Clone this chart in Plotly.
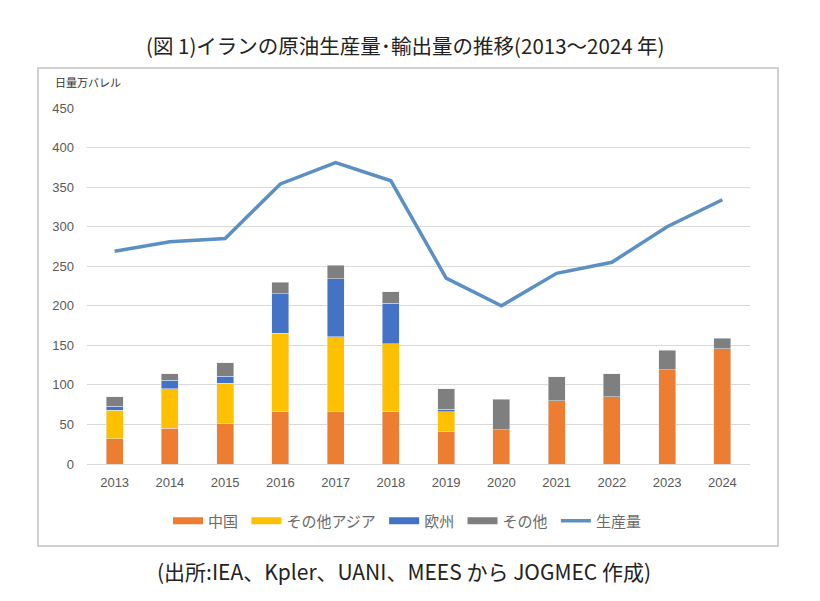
import plotly.graph_objects as go

years = ["2013", "2014", "2015", "2016", "2017", "2018",
         "2019", "2020", "2021", "2022", "2023", "2024"]

# 輸出量 (日量万バレル)
china = [32, 45, 51, 66, 66, 67, 41, 43, 80, 85, 119, 146]
other_asia = [36, 50, 51, 99, 95, 85, 25, 0, 0, 0, 0, 0]
europe = [5, 11, 9, 50, 73, 51, 3, 0, 0, 0, 0, 0]
others = [12, 8, 17, 15, 17, 15, 26, 39, 30, 29, 25, 13]

# 生産量
production = [269, 281, 285, 354, 381, 358, 235, 200, 241, 255, 300, 334]

series = [("中国", china, "#ED7D31"),
          ("その他アジア", other_asia, "#FFC000"),
          ("欧州", europe, "#4472C4"),
          ("その他", others, "#7F7F7F")]

FONT = "Noto Sans CJK JP"
W, H = 820, 601
OFF = 8  # page body margin
L, R, T, B = 87 - OFF, 78, 108 - OFF, 145

fig = go.Figure()
for name, vals, col in series:
    fig.add_trace(go.Bar(x=years, y=vals, name=name, marker_color=col,
                         showlegend=False, legendgroup=name))
# wide legend swatches like Excel
for name, vals, col in series:
    fig.add_trace(go.Scatter(x=[None], y=[None], name=name + " ", mode="lines",
                             line=dict(color=col, width=7), legendgroup=name))
fig.add_trace(go.Scatter(x=years, y=production, name="生産量", mode="lines",
                         line=dict(color="#5B90C2", width=3.5)))

pw, ph = W - L - R, H - T - B


def px_x(v):
    return (v - OFF - L) / pw


def px_y(v):
    return (H - B - (v - OFF)) / ph


fig.update_layout(
    width=W, height=H,
    margin=dict(l=L, r=R, t=T, b=B),
    paper_bgcolor="white", plot_bgcolor="white",
    barmode="stack", bargap=0.69,
    font=dict(family=FONT, color="#595959", size=12),
    legend=dict(orientation="h", x=px_x(407), xanchor="center",
                y=px_y(521), yanchor="middle",
                font=dict(size=15, color="#6b6b6b"),
                traceorder="normal", itemwidth=30),
    xaxis=dict(showgrid=False, showline=True, linecolor="#d9d9d9",
               ticks="", ticklabelstandoff=6,
               tickfont=dict(size=13, color="#595959", family="Liberation Sans")),
    yaxis=dict(range=[0, 450], dtick=50, showgrid=True, gridcolor="#d9d9d9",
               gridwidth=1, zeroline=False, ticks="", ticklabelstandoff=12,
               tickfont=dict(size=13, color="#595959", family="Liberation Sans")),
    shapes=[
        dict(type="rect", xref="paper", yref="paper",
             x0=px_x(38), x1=px_x(778), y0=px_y(546), y1=px_y(68),
             line=dict(color="#d0d0d0", width=2), layer="below"),
    ],
    annotations=[
        dict(text="(図 1)イランの原油生産量･輸出量の推移(2013～2024 年)",
             xref="paper", yref="paper", x=px_x(405), y=px_y(45),
             xanchor="center", yanchor="middle", showarrow=False,
             font=dict(size=20.5, color="#222222", family=FONT)),
        dict(text="日量万バレル", xref="paper", yref="paper",
             x=px_x(53), y=px_y(82), xanchor="left", yanchor="middle",
             showarrow=False, font=dict(size=11, color="#333333", family=FONT)),
        dict(text="(出所:IEA、Kpler、UANI、MEES から JOGMEC 作成)",
             xref="paper", yref="paper", x=px_x(404), y=px_y(571),
             xanchor="center", yanchor="middle", showarrow=False,
             font=dict(size=21, color="#222222", family=FONT)),
    ],
)

fig.write_html("out.html")
